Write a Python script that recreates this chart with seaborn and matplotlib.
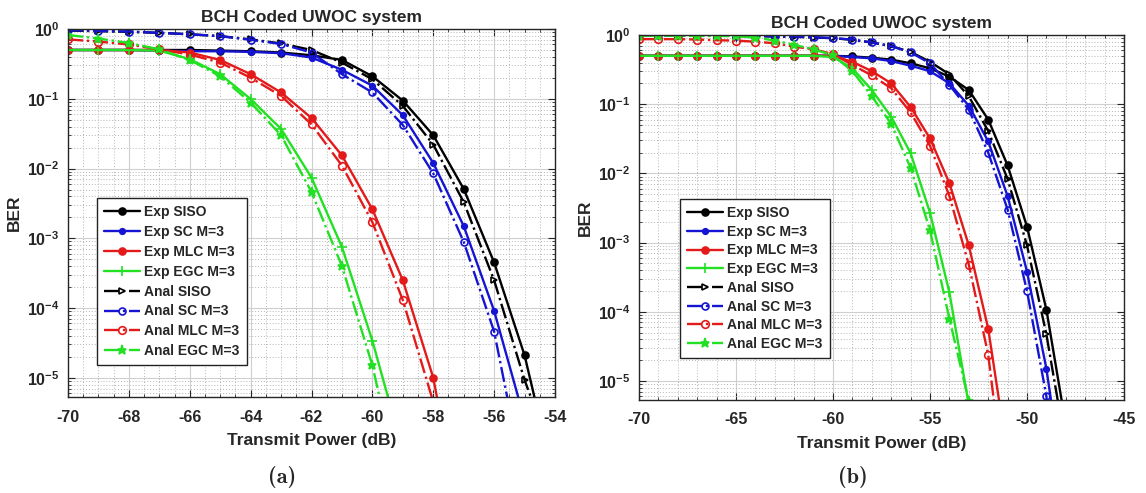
import numpy as np
import matplotlib
matplotlib.use("Agg")
import matplotlib.pyplot as plt
import seaborn as sns
from matplotlib.ticker import FixedLocator, FixedFormatter, MultipleLocator, LogLocator, NullFormatter

sns.set_style("ticks")
plt.rcParams['font.family'] = ['Liberation Sans', 'DejaVu Sans']
plt.rcParams['font.weight'] = 'bold'
plt.rcParams['axes.unicode_minus'] = False
plt.rcParams['mathtext.fontset'] = 'custom'
plt.rcParams['mathtext.rm'] = 'Liberation Sans'
plt.rcParams['mathtext.bf'] = 'Liberation Sans:bold'

# ---------------- data: panel (a) ----------------
power_a = [-70, -69, -68, -67, -66, -65, -64, -63, -62, -61, -60, -59, -58, -57, -56, -55, -54]
a_exp_siso  = [0.5, 0.5, 0.5, 0.5, 0.5, 0.49, 0.48, 0.46, 0.42, 0.36, 0.21, 0.094, 0.030, 0.0051, 4.5e-4, 2.1e-5, 3e-7]
a_exp_sc    = [0.5, 0.5, 0.5, 0.49, 0.48, 0.48, 0.47, 0.45, 0.39, 0.26, 0.154, 0.058, 0.012, 0.0015, 9.1e-5, 2.5e-6]
a_exp_mlc   = [0.5, 0.5, 0.5, 0.5, 0.46, 0.36, 0.225, 0.123, 0.053, 0.0154, 0.0026, 2.5e-4, 1.0e-5, 5e-8]
a_exp_egc   = [0.5, 0.5, 0.5, 0.49, 0.37, 0.225, 0.099, 0.037, 0.0074, 7.5e-4, 3.4e-5, 9e-7]
a_anal_siso = [0.95, 0.93, 0.91, 0.88, 0.84, 0.79, 0.71, 0.62, 0.50, 0.33, 0.19, 0.079, 0.022, 0.0033, 2.5e-4, 9.3e-6, 6e-7]
a_anal_sc   = [0.96, 0.94, 0.92, 0.88, 0.84, 0.79, 0.70, 0.61, 0.46, 0.225, 0.123, 0.042, 0.0085, 8.9e-4, 4.6e-5, 3e-7]
a_anal_mlc  = [0.71, 0.66, 0.60, 0.51, 0.43, 0.33, 0.20, 0.11, 0.043, 0.011, 0.0017, 1.3e-4, 4.5e-6, 1e-8]
a_anal_egc  = [0.82, 0.73, 0.63, 0.51, 0.36, 0.21, 0.088, 0.030, 0.0046, 4.0e-4, 1.5e-5, 1.8e-7]
xticks_a = [-70, -68, -66, -64, -62, -60, -58, -56, -54]

# ---------------- data: panel (b) ----------------
power_b = [-70, -69, -68, -67, -66, -65, -64, -63, -62, -61, -60, -59, -58, -57, -56, -55, -54, -53, -52, -51, -50, -49, -48]
b_exp_siso  = [0.5, 0.5, 0.5, 0.5, 0.5, 0.5, 0.5, 0.5, 0.5, 0.5, 0.5, 0.49, 0.47, 0.44, 0.39, 0.33, 0.25, 0.16, 0.06, 0.013, 0.0017, 1.07e-4, 2.3e-6]
b_exp_sc    = [0.5, 0.5, 0.5, 0.5, 0.5, 0.5, 0.5, 0.5, 0.5, 0.5, 0.5, 0.48, 0.46, 0.42, 0.36, 0.30, 0.20, 0.095, 0.029, 0.0047, 3.8e-4, 1.5e-5, 1.8e-7]
b_exp_mlc   = [0.5, 0.5, 0.5, 0.5, 0.5, 0.5, 0.5, 0.5, 0.5, 0.5, 0.5, 0.41, 0.30, 0.20, 0.091, 0.032, 0.0072, 9.1e-4, 5.7e-5, 8e-7]
b_exp_egc   = [0.5, 0.5, 0.5, 0.5, 0.5, 0.5, 0.5, 0.5, 0.5, 0.5, 0.48, 0.33, 0.16, 0.066, 0.0196, 0.0027, 1.9e-4, 4.5e-6, 1e-8]
b_anal_siso = [0.99, 0.99, 0.99, 0.98, 0.98, 0.97, 0.96, 0.95, 0.94, 0.92, 0.90, 0.85, 0.78, 0.69, 0.57, 0.41, 0.27, 0.13, 0.041, 0.0083, 9.1e-4, 4.7e-5, 1.1e-6]
b_anal_sc   = [1.0, 1.0, 0.99, 0.99, 0.99, 0.98, 0.97, 0.96, 0.95, 0.93, 0.90, 0.86, 0.78, 0.69, 0.56, 0.39, 0.19, 0.083, 0.020, 0.0030, 2.0e-4, 6.0e-6, 1e-8]
b_anal_mlc  = [0.87, 0.87, 0.87, 0.86, 0.84, 0.83, 0.80, 0.76, 0.68, 0.62, 0.53, 0.37, 0.26, 0.17, 0.076, 0.025, 0.0047, 4.8e-4, 2.4e-5, 1.3e-7]
b_anal_egc  = [0.98, 0.98, 0.98, 0.97, 0.97, 0.96, 0.92, 0.83, 0.72, 0.62, 0.51, 0.30, 0.13, 0.052, 0.012, 0.0015, 7.9e-5, 5.1e-6, 1e-8]
xticks_b = [-70, -65, -60, -55, -50, -45]

labels = ["Exp SISO", "Exp SC M=3", "Exp MLC M=3", "Exp EGC M=3",
          "Anal SISO", "Anal SC M=3", "Anal MLC M=3", "Anal EGC M=3"]
yticks = [1e-5, 1e-4, 1e-3, 1e-2, 1e-1, 1e0]
ytick_labels = [r'$\mathbf{10^{-5}}$', r'$\mathbf{10^{-4}}$', r'$\mathbf{10^{-3}}$',
                r'$\mathbf{10^{-2}}$', r'$\mathbf{10^{-1}}$', r'$\mathbf{10^{0}}$']

BLACK, BLUE, RED, GREEN = '#000000', '#1414d2', '#e41a1a', '#22e022'
# (color, linestyle, marker, filled, markersize)
styles = [
    (BLACK, '-', 'o', True, 5.0),
    (BLUE, '-', 'o', True, 4.0),
    (RED, '-', 'o', True, 5.0),
    (GREEN, '-', '+', True, 7.0),
    (BLACK, '-.', '>', False, 5.0),
    (BLUE, '-.', 'o', False, 5.0),
    (RED, '-.', 'o', False, 5.5),
    (GREEN, '-.', '*', True, 6.5),
]

fig = plt.figure(figsize=(11.46, 4.93), dpi=100)
W, H = 1146, 493


def make_ax(px_left, px_top, px_right, px_bottom):
    return fig.add_axes([px_left / W, 1 - px_bottom / H, (px_right - px_left) / W, (px_bottom - px_top) / H])


def draw_panel(ax, x, series, xlim, xticks, xminor, legend_anchor, legend_spacing):
    ax.set_yscale('log')
    for y, lab, (c, ls, m, filled, ms) in zip(series, labels, styles):
        xs = x[:len(y)]
        sns.lineplot(x=xs, y=y, ax=ax, color=c, linestyle=ls, marker=m, markersize=ms,
                     markerfacecolor=(c if filled else 'none'), markeredgecolor=c,
                     markeredgewidth=1.2, linewidth=1.7, label=lab, estimator=None, sort=False)
    ax.set_xlim(*xlim)
    ax.set_ylim(5.3e-6, 1.0)
    ax.set_xticks(xticks)
    ax.set_xticklabels([str(v) for v in xticks])
    ax.xaxis.set_minor_locator(MultipleLocator(xminor))
    ax.yaxis.set_major_locator(FixedLocator(yticks))
    ax.yaxis.set_major_formatter(FixedFormatter(ytick_labels))
    ax.yaxis.set_minor_locator(LogLocator(base=10, subs=np.arange(2, 10), numticks=20))
    ax.yaxis.set_minor_formatter(NullFormatter())
    ax.grid(True, which='major', color='#cfcfcf', linestyle='-', linewidth=0.8)
    ax.grid(True, which='minor', color='#b5b5b5', linestyle=(0, (1, 2)), linewidth=0.7)
    ax.set_axisbelow(True)
    ax.tick_params(which='both', direction='in', top=True, right=True, colors='#262626')
    ax.tick_params(which='major', length=5, width=0.8)
    ax.tick_params(which='minor', length=2.5, width=0.6)
    ax.tick_params(axis='x', which='major', pad=9, labelsize=11.5)
    ax.tick_params(axis='y', which='major', pad=6, labelsize=11.5)
    for sp in ax.spines.values():
        sp.set_visible(True)
        sp.set_color('#262626')
        sp.set_linewidth(1.0)
    ax.set_title("BCH Coded UWOC system", fontsize=12.5, fontweight='bold', pad=5)
    ax.set_xlabel("Transmit Power (dB)", fontsize=12.5, fontweight='bold', labelpad=6)
    ax.set_ylabel("BER", fontsize=12.5, fontweight='bold', labelpad=4)
    handles, labs = ax.get_legend_handles_labels()
    leg = ax.legend(handles, labs, loc='lower left', bbox_to_anchor=legend_anchor,
                    frameon=True, fancybox=False, framealpha=1, edgecolor='#222222',
                    fontsize=10, numpoints=1, handlelength=2.6, handletextpad=0.3,
                    borderpad=0.5, labelspacing=legend_spacing, borderaxespad=0)
    leg.get_frame().set_linewidth(1.0)
    for t in leg.get_texts():
        t.set_fontweight('bold')


ax1 = make_ax(68, 29, 555, 397)
draw_panel(ax1, power_a,
           [a_exp_siso, a_exp_sc, a_exp_mlc, a_exp_egc, a_anal_siso, a_anal_sc, a_anal_mlc, a_anal_egc],
           (-70, -54), xticks_a, 0.5, (0.06, 0.087), 0.42)

ax2 = make_ax(639, 35, 1124, 400)
draw_panel(ax2, power_b,
           [b_exp_siso, b_exp_sc, b_exp_mlc, b_exp_egc, b_anal_siso, b_anal_sc, b_anal_mlc, b_anal_egc],
           (-70, -45), xticks_b, 1.0, (0.085, 0.115), 0.34)

fig.text(282 / W, 1 - 477 / H, '(a)', family=['cmb10', 'DejaVu Serif'], fontsize=16,
         ha='center', va='center')
fig.text(853 / W, 1 - 477 / H, '(b)', family=['cmb10', 'DejaVu Serif'], fontsize=16,
         ha='center', va='center')

fig.savefig("out.png", dpi=100, facecolor='white')
